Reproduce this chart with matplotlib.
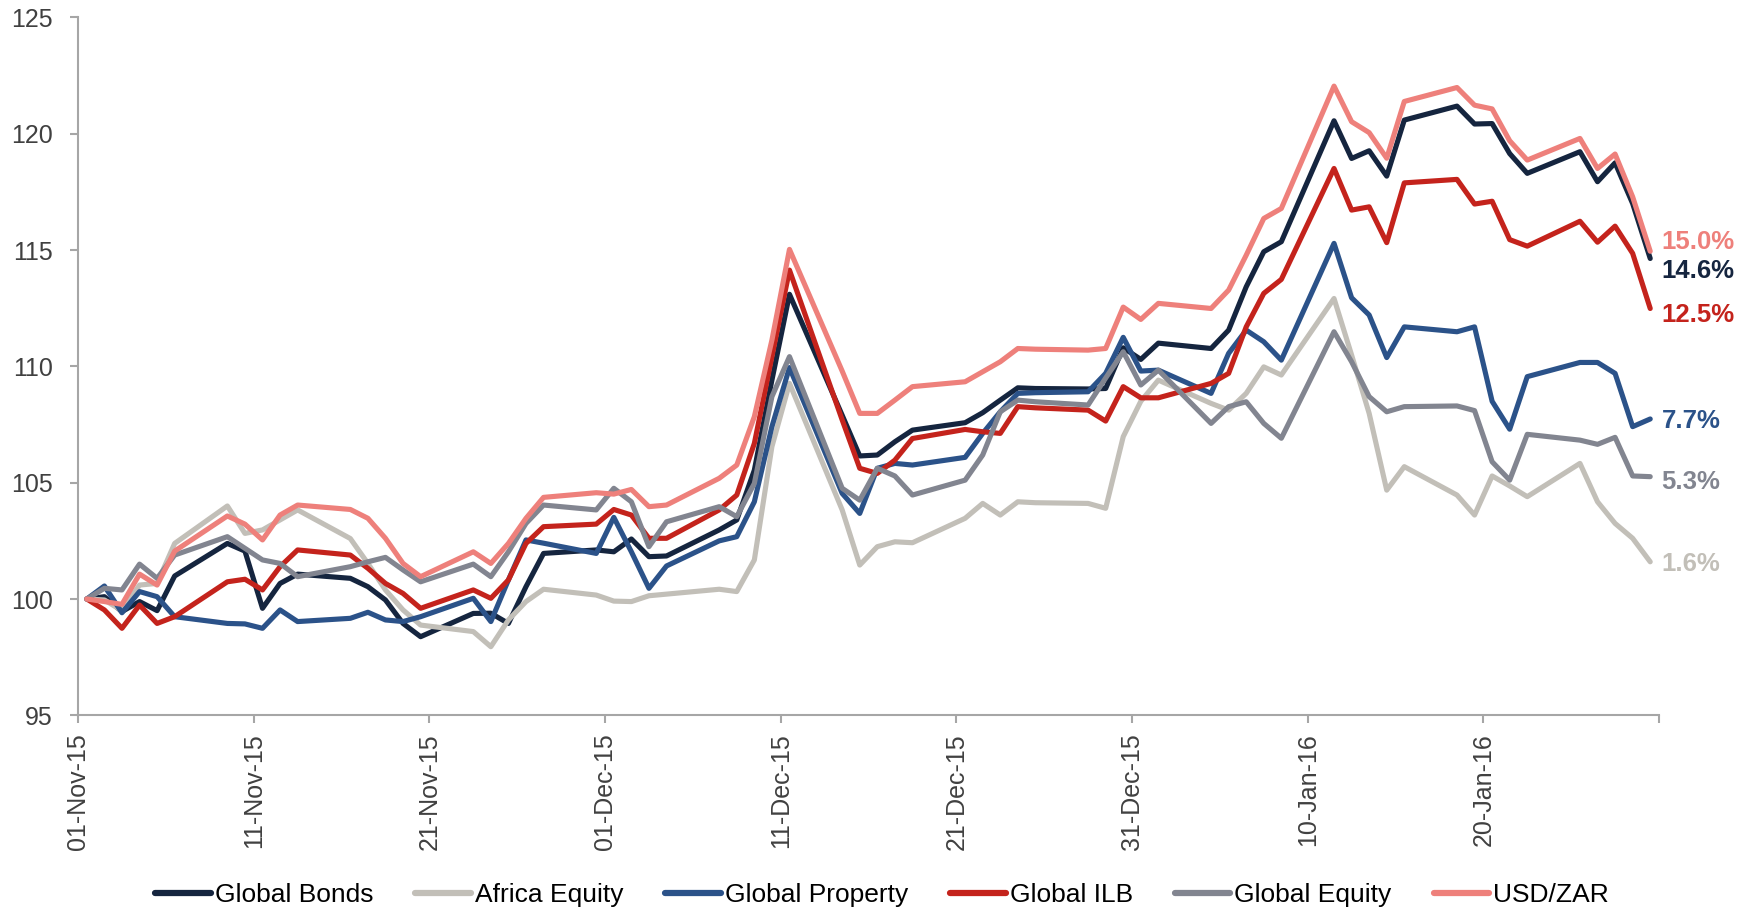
import matplotlib
matplotlib.use("Agg")
import matplotlib.pyplot as plt
import matplotlib.dates as mdates
import numpy as np
import pandas as pd

plt.rcParams['font.family'] = ['Liberation Sans', 'DejaVu Sans']

# dates: 01-Nov-15 base, then business days to 29-Jan-16
dates = [pd.Timestamp('2015-11-01')] + list(pd.bdate_range('2015-11-02', '2016-01-29'))

global_bonds = [100, 100.1, 99.46, 99.89, 99.5, 100.99, 102.39, 102.06, 99.6, 100.67, 101.07, 100.89, 100.53, 99.96, 98.95, 98.38, 99.38,
                99.39, 98.95, 100.53, 101.96, 102.11, 102.03, 102.58, 101.82, 101.85,
                102.97, 103.4, 105.54, 109.41, 113.1,
                107.9, 106.15, 106.19, 106.76, 107.26, 107.58, 108.01, 108.55, 109.08, 109.05, 109.03, 109.05, 110.8, 110.3, 111.0,
                110.77, 111.56, 113.42, 114.93, 115.36, 120.56, 118.94, 119.27, 118.18, 120.59, 121.19, 120.42, 120.44,
                119.15, 118.3, 119.23, 117.94, 118.75, 117.0, 114.64]

africa_equity = [100, 99.96, 99.5, 100.6, 100.67, 102.39, 104.0, 102.82, 102.97, 103.4, 103.83, 102.6, 101.53, 100.39, 99.53, 98.88, 98.6,
                 97.95, 99.1, 99.89, 100.42, 100.17, 99.91, 99.89, 100.14, 100.21,
                 100.42, 100.32, 101.68, 106.55, 109.27,
                 103.83, 101.46, 102.25, 102.46, 102.42, 103.47, 104.11, 103.61, 104.18, 104.14, 104.11, 103.9, 106.98, 108.5, 109.41,
                 108.41, 108.12, 108.84, 109.98, 109.63, 112.92, 110.49, 107.98, 104.68, 105.69, 104.47, 103.61, 105.29,
                 104.86, 104.4, 105.83, 104.18, 103.25, 102.61, 101.6]

global_property = [100, 100.56, 99.41, 100.32, 100.1, 99.24, 98.95, 98.93, 98.74, 99.53, 99.03, 99.17, 99.43, 99.1, 99.03, 99.24, 100.03,
                   99.03, 100.82, 102.54, 102.4, 101.96, 103.51, 102.03, 100.46, 101.42,
                   102.5, 102.68, 104.18, 107.41, 109.95,
                   104.54, 103.68, 105.62, 105.83, 105.76, 106.09, 107.12, 108.05, 108.84, 108.87, 108.91, 109.7, 111.25, 109.8, 109.84,
                   108.84, 110.56, 111.56, 111.06, 110.27, 115.29, 112.95, 112.21, 110.38, 111.7, 111.49, 111.7, 108.5,
                   107.3, 109.56, 110.17, 110.17, 109.7, 107.41, 107.74]

global_ilb = [100, 99.53, 98.74, 99.74, 98.95, 99.24, 100.74, 100.85, 100.39, 101.39, 102.11, 101.89, 101.32, 100.67, 100.24, 99.6, 100.39,
              100.03, 100.82, 102.39, 103.11, 103.22, 103.85, 103.61, 102.61, 102.61,
              103.83, 104.47, 106.69, 110.42, 114.14,
              107.7, 105.62, 105.4, 105.97, 106.9, 107.29, 107.19, 107.12, 108.27, 108.22, 108.12, 107.65, 109.13, 108.65, 108.65,
              109.27, 109.7, 111.7, 113.14, 113.74, 118.51, 116.72, 116.86, 115.32, 117.89, 118.04, 116.98, 117.1,
              115.45, 115.17, 116.24, 115.34, 116.03, 114.86, 112.49]

global_equity = [100, 100.46, 100.39, 101.5, 100.89, 101.89, 102.68, 102.18, 101.68, 101.53, 100.96, 101.39, 101.6, 101.79, 101.25, 100.74, 101.5,
                 100.96, 102.03, 103.25, 104.04, 103.83, 104.76, 104.18, 102.25, 103.32,
                 103.97, 103.54, 104.97, 108.7, 110.42,
                 104.76, 104.25, 105.62, 105.29, 104.47, 105.11, 106.19, 108.05, 108.55, 108.48, 108.34, 109.5, 110.63, 109.2, 109.84,
                 107.55, 108.27, 108.48, 107.55, 106.91, 111.49, 110.2, 108.7, 108.05, 108.27, 108.3, 108.1, 105.9,
                 105.11, 107.08, 106.83, 106.65, 106.95, 105.29, 105.26]

usd_zar = [100, 99.89, 99.77, 101.07, 100.6, 102.06, 103.57, 103.22, 102.54, 103.61, 104.04, 103.85, 103.47, 102.61, 101.53, 100.96, 102.03,
           101.53, 102.39, 103.47, 104.37, 104.57, 104.51, 104.71, 103.97, 104.04,
           105.19, 105.76, 107.84, 111.13, 115.03,
           109.8, 107.98, 107.98, 108.55, 109.13, 109.34, 109.77, 110.2, 110.77, 110.74, 110.7, 110.77, 112.55, 112.02, 112.71,
           112.49, 113.28, 114.78, 116.36, 116.79, 122.05, 120.52, 120.05, 118.95, 121.39, 121.99, 121.23, 121.07,
           119.7, 118.87, 119.8, 118.51, 119.13, 117.29, 114.95]

names = ['Global Bonds', 'Africa Equity', 'Global Property', 'Global ILB', 'Global Equity', 'USD/ZAR']
series = [global_bonds, africa_equity, global_property, global_ilb, global_equity, usd_zar]
colors = ['#15253f', '#c2bfb8', '#2b5289', '#c4231c', '#828590', '#ee807b']
end_labels = ['14.6%', '1.6%', '7.7%', '12.5%', '5.3%', '15.0%']
label_nudge = [-0.55, -0.08, -0.08, -0.27, -0.24, 0.38]

# points sit in the middle of each day slot (Excel date axis)
x = mdates.date2num(dates) + 0.5

fig = plt.figure(figsize=(17.5, 9.11), dpi=100)
ax = fig.add_axes([0.0446, 0.2148, 0.9034, 0.766])

for name, vals, c in zip(names, series, colors):
    ax.plot(x, vals, color=c, lw=3.7, label=name,
            solid_joinstyle='round', solid_capstyle='round')

for vals, c, lab, dy in zip(series, colors, end_labels, label_nudge):
    ax.text(x[-1] + 0.65, vals[-1] + dy, lab, color=c, fontsize=18.5,
            fontweight='bold', ha='left', va='center')

x0 = mdates.date2num(pd.Timestamp('2015-11-01'))
ax.set_xlim(x0, x0 + 90)
ax.set_ylim(95, 125)
ax.set_yticks(np.arange(95, 126, 5))

tick_pos = [x0 + 10 * k for k in range(10)]
tick_lab = [mdates.num2date(t).strftime('%d-%b-%y') for t in tick_pos[:-1]] + ['']
ax.set_xticks(tick_pos)
ax.set_xticklabels(tick_lab, rotation=90)

for s in ['top', 'right']:
    ax.spines[s].set_visible(False)
for s in ['left', 'bottom']:
    ax.spines[s].set_color('#a6a6a6')
    ax.spines[s].set_linewidth(1.5)

ax.tick_params(axis='both', colors='#a6a6a6', width=1.5, length=6,
               labelcolor='#404040', labelsize=18)
ax.tick_params(axis='y', pad=12)
ax.tick_params(axis='x', pad=7)

leg = fig.legend(loc='center', bbox_to_anchor=(0.504, 0.0176), ncol=6, frameon=False,
                 fontsize=19, handlelength=2.1, handletextpad=0.15, columnspacing=1.6)
for h in leg.get_lines():
    h.set_linewidth(4.5)

fig.savefig('out.png', dpi=100)
